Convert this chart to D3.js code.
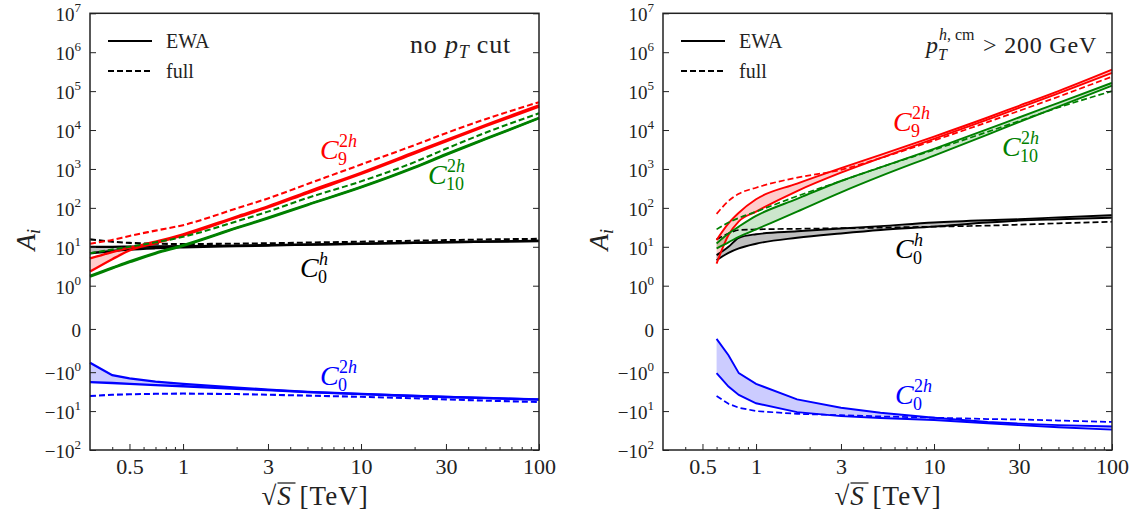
<!DOCTYPE html>
<html>
<head>
<meta charset="utf-8">
<script src="https://cdn.jsdelivr.net/npm/d3@7"></script>
<style>
body { margin: 0; background: #fff; }
svg { display: block; }
text { font-family: "Liberation Serif", "DejaVu Serif", serif; fill: #222; }
</style>
</head>
<body>
<svg id="fig" width="1133" height="516"></svg>
<script>
// ---- data: left panel (no pT cut) ----
const sL = [0.3, 0.4, 0.5, 0.7, 1, 2, 3, 5, 10, 20, 30, 50, 100];
const c9EwaHiL = [5, 7.3, 9.5, 13.5, 21, 60, 110, 260, 800, 2700, 5500, 13500, 43000];
const c9EwaLoL = [2.3, 4.8, 8, 12.3, 19.5, 56, 102, 240, 740, 2500, 5100, 12500, 40000];
const c9FullL = [12, 15, 19, 26, 36, 97, 175, 410, 1300, 4100, 8300, 19000, 52000];
const c10EwaHiL = [1.8, 2.9, 4.2, 7, 11, 31, 56, 122, 345, 1120, 2400, 6000, 20500];
const c10EwaLoL = [1.7, 2.8, 4.0, 6.7, 10.5, 30, 54, 118, 335, 1080, 2300, 5800, 20000];
const c10FullL = [6.8, 8.5, 10, 13, 18, 45, 80, 180, 480, 1500, 3300, 8500, 27000];
const c0hEwaHiL = [10, 10, 10.1, 10.2, 10.4, 10.7, 11, 11.4, 12, 12.7, 13.1, 13.6, 14.2];
const c0hEwaLoL = [6.8, 7.8, 8.5, 9.2, 9.7, 10.4, 10.8, 11.3, 11.9, 12.6, 13, 13.5, 14.1];
const c0hFullL = [15.5, 13.5, 12.6, 12, 11.8, 12, 12.3, 12.8, 13.5, 14.3, 14.8, 15.4, 16];
const c02hEwaHiL = [-0.78, -1.2, -1.45, -1.75, -2.0, -2.5, -2.8, -3.2, -3.6, -4.1, -4.3, -4.6, -5.0];
const c02hEwaLoL = [-1.8, -1.9, -2.0, -2.15, -2.3, -2.7, -2.9, -3.25, -3.65, -4.1, -4.35, -4.65, -5.05];
const c02hFullL = [-4.1, -3.8, -3.7, -3.6, -3.55, -3.65, -3.8, -4.0, -4.3, -4.7, -5.0, -5.4, -5.85];

// ---- data: right panel (pT > 200 GeV) ----
const sR = [0.6, 0.7, 0.8, 1, 1.7, 3, 5, 10, 20, 30, 50, 100];
const c9EwaHiR = [15, 40, 75, 166, 420, 1050, 2300, 6800, 21000, 42000, 100000, 355000];
const c9EwaLoR = [3.7, 20, 45, 80, 270, 800, 1900, 5900, 18500, 37000, 88000, 295000];
const c9FullR = [70, 150, 230, 330, 600, 950, 1900, 5400, 16000, 31000, 72000, 236000];
const c10EwaHiR = [12.2, 22, 33, 62, 170, 490, 1100, 3300, 10500, 21000, 50000, 163000];
const c10EwaLoR = [9.1, 13, 18, 28, 80, 250, 650, 2200, 7600, 16000, 40000, 138000];
const c10FullR = [28, 42, 55, 80, 200, 490, 1100, 3100, 9000, 17000, 38000, 100000];
const c0hEwaHiR = [6.1, 10, 17, 21, 25, 29.5, 34, 42, 48, 51, 57, 65];
const c0hEwaLoR = [4.5, 7, 9.1, 12, 17, 22, 27, 33, 42, 47, 51, 56];
const c0hFullR = [15.5, 22, 27, 28, 29, 30, 31, 33, 35, 37, 40, 44];
const c02hEwaHiR = [-0.23, -0.61, -1.06, -2.0, -5.0, -8.2, -11, -14.8, -19, -21, -23, -25];
const c02hEwaLoR = [-1.06, -2.35, -3.85, -6.3, -10.6, -13.5, -15, -17, -20.5, -23, -26, -30];
const c02hFullR = [-4.1, -6.5, -8.2, -10, -11.8, -12.7, -13.7, -14.8, -16, -16.4, -17.5, -19];

// ---- ticks ----
const xTickVals = [0.5, 1, 3, 10, 30, 100];
const xTickLabels = ["0.5", "1", "3", "10", "30", "100"];
const xMinorVals = [0.4, 0.6, 0.7, 0.8, 0.9, 2, 4, 5, 6, 7, 8, 9, 20, 40, 50, 60, 70, 80, 90];
const yTickVals = [-100, -10, -1, 0, 1, 10, 100, 1e3, 1e4, 1e5, 1e6, 1e7];
const yTickExps = ["2", "1", "0", "", "0", "1", "2", "3", "4", "5", "6", "7"];

const svg = d3.select("#fig");
const serif = '"Liberation Serif", "DejaVu Serif", serif';

// symlog like matplotlib (linthresh 1, linscale 1)
const linAdj = 1 / (1 - 1 / 10);
function symlog(v) {
  const a = Math.abs(v);
  if (a <= 1) return v * linAdj;
  return Math.sign(v) * (linAdj + Math.log10(a));
}

const yTop = 13.3, yBottom = 450;
const yLin = d3.scaleLinear().domain([symlog(-100), symlog(1e7)]).range([yBottom, yTop]);
const yPos = v => yLin(symlog(v));

const red = "#ff0000", green = "#008000", blue = "#0000ff", black = "#000000";

function drawPanel(p) {
  const x = d3.scaleLog().domain([0.3, 100]).range([p.x0, p.x1]);
  const g = svg.append("g");

  // bands and lines
  p.series.forEach(sr => {
    const pts = p.s.map((s, i) => ({ s: s, hi: sr.hi[i], lo: sr.lo[i], full: sr.full[i] }));
    const curve = sr.linear ? d3.curveLinear : d3.curveMonotoneX;
    const area = d3.area().x(d => x(d.s)).y0(d => yPos(d.lo)).y1(d => yPos(d.hi)).curve(curve);
    g.append("path").datum(pts).attr("d", area)
      .attr("fill", sr.color).attr("fill-opacity", sr.fillOp).attr("stroke", "none");
  });
  p.series.forEach(sr => {
    const pts = p.s.map((s, i) => ({ s: s, hi: sr.hi[i], lo: sr.lo[i], full: sr.full[i] }));
    const curve = sr.linear ? d3.curveLinear : d3.curveMonotoneX;
    ["hi", "lo", "full"].forEach(k => {
      const line = d3.line().x(d => x(d.s)).y(d => yPos(d[k])).curve(curve);
      g.append("path").datum(pts).attr("d", line)
        .attr("fill", "none").attr("stroke", sr.color)
        .attr("stroke-width", k === "full" ? p.lw * 0.9 : p.lw)
        .attr("stroke-dasharray", k === "full" ? "6,3" : null);
    });
  });

  // frame
  g.append("rect").attr("x", p.x0).attr("y", yTop).attr("width", p.x1 - p.x0).attr("height", yBottom - yTop)
    .attr("fill", "none").attr("stroke", "#222").attr("stroke-width", 1.5);

  // x axis
  const gx = g.append("g").attr("transform", `translate(0,${yBottom})`)
    .call(d3.axisBottom(x).tickValues(xTickVals).tickSize(-6).tickPadding(8)
      .tickFormat((d, i) => xTickLabels[i]));
  gx.attr("font-family", serif);
  gx.select(".domain").remove();
  gx.selectAll("text").attr("font-size", 22).attr("fill", "#222");
  const gxm = g.append("g").attr("transform", `translate(0,${yBottom})`)
    .call(d3.axisBottom(x).tickValues(xMinorVals).tickSize(-3).tickFormat(""));
  gxm.select(".domain").remove();

  // y axis (left, labelled) and right ticks
  const gy = g.append("g").attr("transform", `translate(${p.x0},0)`)
    .call(d3.axisLeft(yLin).tickValues(yTickVals.map(symlog)).tickSize(-6).tickPadding(9).tickFormat(""));
  gy.attr("font-family", serif);
  gy.select(".domain").remove();
  gy.selectAll(".tick text").each(function (d, i) {
    const t = d3.select(this).attr("font-size", 19).attr("fill", "#222").attr("dy", "0.4em");
    const v = yTickVals[i];
    if (v === 0) { t.text("0"); return; }
    t.append("tspan").text((v < 0 ? "\u2212" : "") + "10");
    t.append("tspan").attr("dy", -9).attr("font-size", 13).text(yTickExps[i]);
  });
  const gyr = g.append("g").attr("transform", `translate(${p.x1},0)`)
    .call(d3.axisRight(yLin).tickValues(yTickVals.map(symlog)).tickSize(-6).tickFormat(""));
  gyr.select(".domain").remove();
  g.selectAll(".tick line").attr("stroke", "#222");

  // axis titles
  const ya = g.append("text").attr("transform", `translate(${p.x0 - 55},${(yTop + yBottom) / 2 + 8}) rotate(-90)`)
    .attr("font-size", 27).attr("text-anchor", "middle");
  ya.append("tspan").attr("font-style", "italic").text("A");
  ya.append("tspan").attr("font-style", "italic").attr("font-size", 18).attr("dy", 5).text("i");

  const cx = (p.x0 + p.x1) / 2;
  const xa = g.append("text").attr("x", cx - 53).attr("y", 505).attr("font-size", 27)
    .attr("letter-spacing", 1);
  xa.append("tspan").text("\u221A");
  xa.append("tspan").attr("font-style", "italic").text("S");
  xa.append("tspan").text(" [TeV]");
  g.append("line").attr("x1", cx - 37).attr("x2", cx - 19).attr("y1", 483).attr("y2", 483)
    .attr("stroke", "#222").attr("stroke-width", 1.3);

  // legend
  const lx = p.x0 + 18;
  [["EWA", null, 41], ["full", "6,3", 71]].forEach(r => {
    g.append("line").attr("x1", lx).attr("x2", lx + 44).attr("y1", r[2]).attr("y2", r[2])
      .attr("stroke", black).attr("stroke-width", 2).attr("stroke-dasharray", r[1]);
    g.append("text").attr("x", lx + 58).attr("y", r[2] + 7).attr("font-size", 20).text(r[0]);
  });

  // curve labels
  p.labels.forEach(l => {
    g.append("text").attr("x", l.x).attr("y", l.y).attr("font-size", 28)
      .attr("font-style", "italic").style("fill", l.color).text("C");
    const sup = g.append("text").attr("x", l.x + 19).attr("y", l.y - 12).attr("font-size", 18).style("fill", l.color);
    if (l.sup === "2h") {
      sup.append("tspan").text("2");
      sup.append("tspan").attr("font-style", "italic").text("h");
    } else {
      sup.append("tspan").attr("font-style", "italic").text("h");
    }
    g.append("text").attr("x", l.x + 18).attr("y", l.y + 6).attr("font-size", 18)
      .style("fill", l.color).text(l.sub);
  });
}

drawPanel({
  x0: 90, x1: 539, s: sL, lw: 2.3,
  series: [
    { color: black, fillOp: 0.25, hi: c0hEwaHiL, lo: c0hEwaLoL, full: c0hFullL },
    { color: blue, fillOp: 0.2, hi: c02hEwaHiL, lo: c02hEwaLoL, full: c02hFullL, linear: true },
    { color: red, fillOp: 0.2, hi: c9EwaHiL, lo: c9EwaLoL, full: c9FullL },
    { color: green, fillOp: 0.2, hi: c10EwaHiL, lo: c10EwaLoL, full: c10FullL }
  ],
  labels: [
    { x: 320, y: 159, color: red, sup: "2h", sub: "9" },
    { x: 428, y: 184, color: green, sup: "2h", sub: "10" },
    { x: 300, y: 277, color: black, sup: "h", sub: "0" },
    { x: 320, y: 385, color: blue, sup: "2h", sub: "0" }
  ]
});

drawPanel({
  x0: 663, x1: 1112, s: sR, lw: 1.9,
  series: [
    { color: black, fillOp: 0.25, hi: c0hEwaHiR, lo: c0hEwaLoR, full: c0hFullR },
    { color: blue, fillOp: 0.2, hi: c02hEwaHiR, lo: c02hEwaLoR, full: c02hFullR, linear: true },
    { color: red, fillOp: 0.2, hi: c9EwaHiR, lo: c9EwaLoR, full: c9FullR },
    { color: green, fillOp: 0.2, hi: c10EwaHiR, lo: c10EwaLoR, full: c10FullR }
  ],
  labels: [
    { x: 893, y: 131, color: red, sup: "2h", sub: "9" },
    { x: 1002, y: 156, color: green, sup: "2h", sub: "10" },
    { x: 895, y: 258, color: black, sup: "h", sub: "0" },
    { x: 895, y: 404, color: blue, sup: "2h", sub: "0" }
  ]
});

// panel annotations
const t1 = svg.append("text").attr("x", 410).attr("y", 53).attr("font-size", 26).attr("letter-spacing", 0.8);
t1.append("tspan").text("no ");
t1.append("tspan").attr("font-style", "italic").text("p");
t1.append("tspan").attr("font-style", "italic").attr("font-size", 18).attr("dy", 5).text("T");
t1.append("tspan").attr("dy", -5).text(" cut");

const t2 = svg.append("text").attr("x", 926).attr("y", 53).attr("font-size", 24);
t2.append("tspan").attr("font-style", "italic").text("p");
svg.append("text").attr("x", 938).attr("y", 60).attr("font-size", 16).attr("font-style", "italic").text("T");
const t2s = svg.append("text").attr("x", 939).attr("y", 40).attr("font-size", 16);
t2s.append("tspan").attr("font-style", "italic").text("h");
t2s.append("tspan").text(", cm");
svg.append("text").attr("x", 983).attr("y", 53).attr("font-size", 24).attr("letter-spacing", 0.8).text("> 200 GeV");
</script>
</body>
</html>
